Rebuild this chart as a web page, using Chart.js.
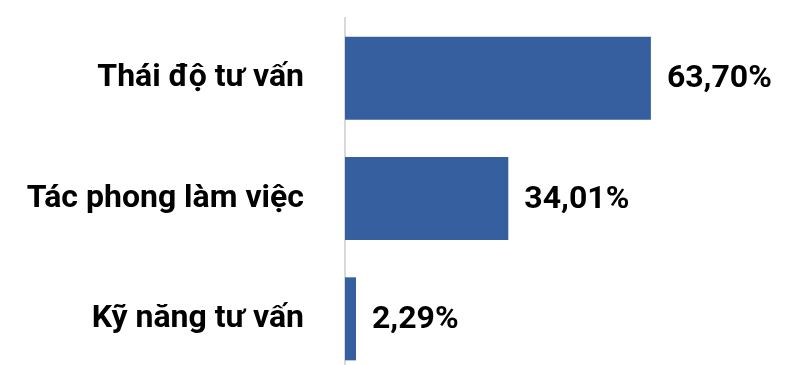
<!DOCTYPE html>
<html lang="vi">
<head>
<meta charset="utf-8">
<title>Đánh giá tư vấn</title>
<script src="https://cdn.jsdelivr.net/npm/chart.js@4.4.1/dist/chart.umd.min.js"></script>
<style>
    html, body { margin: 0; padding: 0; background: #fff; overflow: hidden; }
    #chartBox { width: 794px; height: 365px; overflow: hidden; }
</style>
</head>
<body>
<div id="chartBox">
    <canvas id="ratingChart" width="794" height="379"></canvas>
</div>
<script>
// Survey results
const categories = ["Thái độ tư vấn", "Tác phong làm việc", "Kỹ năng tư vấn"];
const percentages = [63.70, 34.01, 2.29];

const barColor = "#365f9f";
const fontFamily = "Roboto, 'Noto Sans', sans-serif";

// Writes "63,70%" style labels at the end of each bar
const valueLabels = {
    id: "valueLabels",
    afterDatasetsDraw(chart) {
        const ctx = chart.ctx;
        const meta = chart.getDatasetMeta(0);
        ctx.save();
        ctx.font = "bold 32px " + fontFamily;
        ctx.fillStyle = "#000";
        ctx.textAlign = "left";
        ctx.textBaseline = "middle";
        meta.data.forEach((bar, i) => {
            const text = percentages[i].toFixed(2).replace(".", ",") + "%";
            ctx.fillText(text, bar.x + 16, bar.y + 1);
        });
        ctx.restore();
    }
};

const ctx = document.getElementById("ratingChart").getContext("2d");
new Chart(ctx, {
    type: "bar",
    data: {
        labels: categories,
        datasets: [{
            data: percentages,
            backgroundColor: barColor,
            borderWidth: 0,
            barPercentage: 0.69,
            categoryPercentage: 1
        }]
    },
    options: {
        indexAxis: "y",
        responsive: false,
        animation: false,
        devicePixelRatio: 1,
        layout: { padding: { top: 18, right: 0, bottom: 0, left: 0 } },
        plugins: {
            legend: { display: false },
            tooltip: { enabled: false }
        },
        scales: {
            x: {
                display: false,
                min: 0,
                max: 93.5
            },
            y: {
                grid: { display: false, drawTicks: false },
                border: { display: true, color: "#d9d9d9", width: 2 },
                ticks: {
                    color: "#000",
                    padding: 41,
                    font: { family: fontFamily, size: 32, weight: "bold" }
                },
                afterFit(scale) {
                    // fixed axis width, and no extra room above/below for the labels
                    scale.width = 345;
                    scale.paddingTop = 0;
                    scale.paddingBottom = 0;
                }
            }
        }
    },
    plugins: [valueLabels]
});
</script>
</body>
</html>
